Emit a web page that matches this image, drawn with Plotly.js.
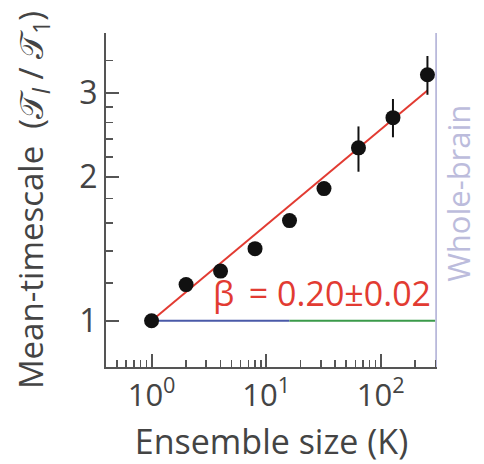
<!DOCTYPE html>
<html><head><meta charset="utf-8">
<script src="https://cdn.plot.ly/plotly-3.0.1.min.js"></script>
<style>html,body{margin:0;padding:0;background:#fff}#c{width:484px;height:464px}</style>
</head><body><div id="c"></div>
<script>
// Data
const ensembleSize = [1, 2, 4, 8, 16, 32, 64, 128, 256];
const meanTimescale = [1.0, 1.19, 1.27, 1.415, 1.62, 1.89, 2.30, 2.66, 3.27];
const errPlus  = [0, 0, 0, 0, 0, 0, 0.25, 0.25, 0.31];
const errMinus = [0, 0, 0, 0, 0, 0, 0.25, 0.24, 0.30];
const beta = 0.20;
const fitX = [1, 256];
const baseBlueX = [1, 16];
const baseGreenX = [16, 300];
const baselineY = 1;
const wholeBrainX = 310;
const xTickVals = [1, 10, 100];
const xTickText = ['10<sup>0</sup>', '10<sup>1</sup>', '10<sup>2</sup>'];
const xMinorVals = [0.4,0.5,0.6,0.7,0.8,0.9,2,3,4,5,6,7,8,9,20,30,40,50,60,70,80,90,200,300];
const yTickVals = [1, 2, 3];
const yTickText = ['1', '2', '3'];
const yMinorVals = [1.2,1.4,1.6,1.8,2.2,2.4,2.6,2.8,3.5,4];

const axisCol = '#555555';
const txtCol = '#444444';
const font = 'Open Sans, Noto Sans, sans-serif';

const traces = [
  {x: baseBlueX, y: baseBlueX.map(()=>baselineY), mode:'lines', line:{color:'#4a5aa8', width:2}, hoverinfo:'skip'},
  {x: baseGreenX, y: baseGreenX.map(()=>baselineY), mode:'lines', line:{color:'#3a9a4a', width:2}, hoverinfo:'skip'},
  {x: fitX, y: fitX.map(k=>Math.pow(k, beta)), mode:'lines', line:{color:'#e23b32', width:2}},
  {x: [wholeBrainX, wholeBrainX], y: [0.8, 4], mode:'lines', line:{color:'#b9b9db', width:3.5}},
  {x: ensembleSize, y: meanTimescale, mode:'markers',
   marker:{color:'#111111', size:15},
   error_y:{type:'data', symmetric:false, array:errPlus, arrayminus:errMinus, color:'#111111', thickness:2, width:0}}
];

const layout = {
  width:484, height:464, showlegend:false,
  paper_bgcolor:'#fff', plot_bgcolor:'#fff',
  margin:{l:106, r:47, t:33, b:97},
  font:{family:font, color:txtCol},
  xaxis:{type:'log', range:[Math.log10(0.4), 2.4917], showgrid:false, zeroline:false,
    showline:true, linecolor:axisCol, linewidth:2,
    ticks:'inside', ticklen:13, tickwidth:2, tickcolor:axisCol,
    tickvals:xTickVals, ticktext:xTickText, tickfont:{size:31, family:font, color:txtCol},
    minor:{tickvals:xMinorVals, ticks:'inside', ticklen:7, tickwidth:1.5, tickcolor:axisCol},
    title:{text:'Ensemble size (K)', font:{size:34, family:font, color:txtCol}, standoff:19}},
  yaxis:{type:'log', range:[Math.log10(0.8), Math.log10(4)], showgrid:false, zeroline:false,
    showline:true, linecolor:axisCol, linewidth:2,
    ticks:'inside', ticklen:13, tickwidth:2, tickcolor:axisCol,
    tickvals:yTickVals, ticktext:yTickText, tickfont:{size:32, family:font, color:txtCol},
    minor:{tickvals:yMinorVals, ticks:'inside', ticklen:7, tickwidth:1.5, tickcolor:axisCol},
    title:{text:'Mean-timescale  (𝒯<sub><i>l</i></sub> / 𝒯<sub>1</sub>)', font:{size:33, family:font, color:txtCol}, standoff:26}},
  annotations:[
    {xref:'paper', yref:'paper', x:0.653, y:0.221, xanchor:'center', yanchor:'middle',
     text:'β\u2009 = 0.20±0.02', showarrow:false,
     font:{size:34, family:font, color:'#e23b32'}},
    {xref:'paper', yref:'paper', x:1.063, y:0.521, xanchor:'center', yanchor:'middle',
     text:'Whole-brain', textangle:-90, showarrow:false,
     font:{size:31, family:font, color:'#bcbcdc'}}
  ]
};
Plotly.newPlot('c', traces, layout, {displayModeBar:false, staticPlot:true});
</script></body></html>
